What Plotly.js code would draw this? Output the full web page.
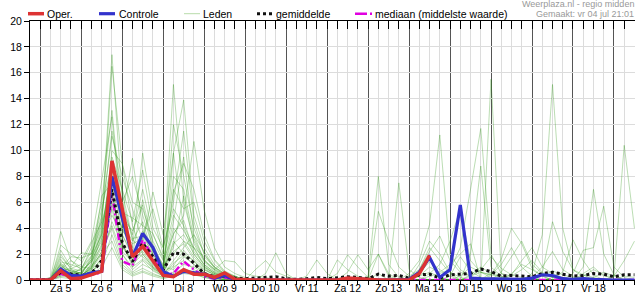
<!DOCTYPE html>
<html><head><meta charset="utf-8">
<script src="https://cdn.plot.ly/plotly-3.0.1.min.js"></script>
<style>html,body{margin:0;padding:0;background:#fff}#chart{width:635px;height:300px}</style>
</head><body><div id="chart"></div>
<script>
// ---- data (6-hourly steps from Fri 4 Jul 18:00) ----
const dagLabels = ['Za 5','Zo 6','Ma 7','Di 8','Wo 9','Do 10','Vr 11','Za 12','Zo 13','Ma 14','Di 15','Wo 16','Do 17','Vr 18'];
const dagMiddag = ['2025-07-05 12:00','2025-07-06 12:00','2025-07-07 12:00','2025-07-08 12:00','2025-07-09 12:00','2025-07-10 12:00','2025-07-11 12:00','2025-07-12 12:00','2025-07-13 12:00','2025-07-14 12:00','2025-07-15 12:00','2025-07-16 12:00','2025-07-17 12:00','2025-07-18 12:00'];

const oper = [0,0,0,0.72,0.1, 0.15,0.4,0.67,9.2, 5.6,1.8,2.6,1.5, 0.35,0.25,0.8,0.45, 0.45,0.2,0.55,0.05, 0,0,0,0, 0,0,0,0, 0,0,0.15,0.1, 0,0,0,0, 0,0.5,1.9];
const controle = [0,0,0,0.85,0.35, 0.3,0.55,0.67,8.0, 4.8,1.8,3.6,2.5, 0.65,0.3,0.67,0.55, 0.45,0.15,0.35,0.05, 0,0,0,0, 0,0,0,0, 0,0,0.1,0.05, 0,0,0,0, 0.05,0.6,1.75,0.2, 0.8,5.8,0.15,0.1, 0.1,0.05,0.1,0.05, 0.15,0.4,0.35,0.1, 0.05,0.1,0.05,0, 0,0,0];
const gemiddelde = [0,0,0.05,0.6,0.5, 0.35,0.5,1.5,7.0, 2.9,1.4,2.85,1.8, 0.8,2.1,2.0,1.3, 0.5,0.25,0.3,0.15, 0.1,0.15,0.2,0.25, 0.1,0.05,0.1,0.2, 0.1,0.15,0.25,0.2, 0.1,0.45,0.3,0.35, 0.15,0.4,0.45,0.15, 0.4,0.45,0.5,0.85, 0.65,0.3,0.35,0.3, 0.25,0.5,0.6,0.45, 0.3,0.35,0.5,0.45, 0.25,0.4,0.4];
const mediaan = [0,0,0,0.5,0.2, 0.2,0.4,0.6,6.7, 1.45,1.1,3.1,1.8, 0.4,0.5,1.45,0.8, 0.3,0.1,0.2,0.05, 0,0,0,0, 0,0,0,0, 0,0,0,0, 0,0,0,0, 0,0,0.05,0.05, 0.05,0.05,0,0, 0,0,0,0, 0,0,0,0, 0,0,0,0, 0,0,0];

const lid01 = [0, 0,0.1,1.2,0.6, 0.4,1.8,4.5,17.4, 6.2,3.1,2.4,1.2, 0.6,1.1,2.3,1.4, 0.8,0.4,0.2,0.1, 0,0,0,0, 0,0,0,0, 0,0,0,0, 0.3,8.0,1.2,0.2, 0,0.3,0.6,0.2, 0,0,0.4,1.0, 0.5,0.2,0,0, 0,0,0,0, 0,0,0,0, 0,0,0];
const lid02 = [0, 0,0,0.8,0.3, 0.2,1.2,3.8,16.5, 9.0,4.2,2.0,1.0, 0.5,2.8,3.5,2.0, 1.0,0.5,0.3,0, 0,0,0,0, 0,0,0,0, 0,0,0,0, 0,0,0,0, 0,0.3,1.0,0.6, 1.2,2.0,2.8,0, 15.5,0.5,0.3,0.8, 1.5,0.6,0.2,0, 0,0,0,0, 0,0,0];
const lid03 = [0, 0,0.2,3.75,1.5, 0.8,2.5,6.0,13.1, 5.0,9.4,4.0,2.2, 1.0,0.8,1.8,1.2, 0.5,0.2,0,0, 0,0,0,0, 0,0,0,0, 0,0,0,0, 0,0,0,0, 0.5,1.5,4.3,11.2, 2.0,0.8,0.3,0, 0,0,0.5,1.2, 0.8,0.3,0,0, 0,0.4,0.2,0, 0,0,0];
const lid04 = [0, 0,0,2.7,2.0, 1.5,3.0,7.7,12.6, 4.0,2.5,9.8,5.0, 2.0,15.1,6.0,3.0, 1.5,0.8,0.4,0.2, 0,0,0,0, 0,0,0,0, 0,0,0,0, 0,0,0,0, 0,0,0,0, 0,0,0,0, 0,0,0,0, 0.5,3.5,15.1,4.0, 0.8,0.2,0,0, 0,0,0];
const lid05 = [0, 0,0.1,2.3,1.0, 2.1,2.0,5.0,11.1, 8.0,5.5,3.0,6.8, 3.5,9.8,13.9,5.0, 2.5,1.2,0.6,0.3, 0,0.8,1.5,0.6, 0.3,0,0,0, 0,0,0,0, 0,0,0,0, 0,0,0.3,0.5, 0.8,2.5,7.0,11.7, 2.0,0.5,0,0, 0,0,0,0, 0,0,0,0, 0,0,0];
const lid06 = [0, 0,0,2.0,0.8, 0.5,1.5,3.0,10.0, 9.0,6.0,5.5,3.0, 1.5,3.5,5.0,10.7, 5.4,2.5,1.0,0.5, 0.2,0,0,0, 0,0,0,0, 0,0,0,0, 0,0,0,0, 0,0,0,0, 0,0,0,0, 0,0,0,0, 0,0,0.2,0, 0,0.5,1.0,0.3, 0.3,10.4,4.0];
const lid07 = [0, 0,0,1.6,0.5, 0.3,1.0,2.5,9.5, 7.0,4.5,8.5,4.0, 2.5,5.5,4.2,2.5, 1.2,0.6,0.3,0.1, 0,0,0.5,2.1, 0.5,0,0,0, 0,0,0,0, 0,0.5,0,7.5, 0.8,0.2,0,0, 0,0,0,0, 0,0,0,0, 0,0,0,0, 0,0,0,0, 0,0,0];
const lid08 = [0, 0,0,1.4,1.2, 0.9,2.2,5.5,9.0, 5.5,3.5,7.0,3.5, 1.8,12.0,8.0,4.0, 2.0,1.0,0.5,0.2, 0,0,0,0, 0,0,0,0, 0,0,0,0, 0,0,0,0, 0,0,0,0, 0,0,0.3,0.6, 0.4,0.2,0,0, 0,0,0,0, 0,1.0,7.0,2.0, 0.4,0,0];
const lid09 = [0, 0,0,1.2,0.4, 0.6,1.6,4.0,8.5, 3.5,2.0,6.2,2.8, 1.0,4.5,9.5,3.5, 1.5,0.8,1.5,1.4, 0.5,0.3,0.2,0, 0,0,0.3,1.55, 0.5,0,0,0, 0,0,0,0, 0,0,0,0, 0,0,0,0, 0,0,0,0, 0,0,0,0, 0,0,0,0, 0,0,0];
const lid10 = [0, 0,0.1,1.0,0.7, 0.4,0.8,2.0,8.0, 6.0,8.0,5.0,2.5, 1.2,2.0,3.0,2.5, 1.8,1.0,0.5,0.3, 0,0,0,0, 0,0,0,0, 0,1.55,0.8,0.3, 0,0,0,0, 0,0,0,0, 0,0,0,0, 0,0,0,0, 0,0,0,0, 0,0,0,0, 0,0,0];
const lid11 = [0, 0,0,0.9,0.3, 0.2,1.3,6.5,7.5, 4.5,3.0,4.5,2.0, 0.8,7.0,5.5,6.0, 3.0,1.5,0.6,0.2, 0,0,0,0, 0,0,0,0, 0,0.5,1.95,1.0, 0.2,0,0,0, 0,0,0,0, 0,0,0,0, 0,0,0,0, 0,0,0,0, 0,0,0,0, 0,0,0];
const lid12 = [0, 0,0,0.7,0.9, 1.2,2.8,4.5,7.0, 2.5,1.5,3.5,5.5, 2.5,6.0,11.5,4.5, 2.0,0.9,0.4,0.1, 0,0,0,0, 0,0,0,0, 0,0,0.6,1.95, 0.8,2.0,0.3,0, 0,0,0,0, 0,0,0,0, 0,0,0,0, 0,0,0,0, 0,0,0,0, 0,0,0];
const lid13 = [0, 0,0,0.6,0.2, 0.1,0.6,1.5,6.5, 3.0,1.0,2.5,1.5, 0.5,3.0,2.0,1.5, 0.6,0.3,0,0, 0,0,0,0, 0,0,0,0, 0,0,0,0, 0,5.3,3.0,1.0, 0.3,0.8,2.5,1.5, 0.5,0,0,0, 0,0,0,0, 0,0,0,0, 0,0,0,0, 0,0,0];
const lid14 = [0, 0,0,0.5,0.6, 0.8,1.8,3.5,6.0, 4.0,2.2,1.8,0.9, 0.4,1.5,2.5,3.5, 2.2,1.0,0.4,0.1, 0,0,0,0, 0,0,0,0, 0,0,0,0, 0,0,0,0, 0,0.8,2.2,3.4, 1.5,0.6,0.3,0.8, 1.8,0.9,0.4,0.2, 0,0.3,0.7,0.4, 0.2,0,0,0, 0,0,0];
const lid15 = [0, 0,0.1,0.4,0.2, 0.3,1.0,2.8,5.5, 2.0,0.8,1.5,0.7, 0.3,9.8,4.0,2.0, 1.0,0.5,0.2,0, 0,0,0,0, 0,0,0,0, 0,0,0,0, 0,0,0,0, 0,0,0.5,1.2, 3.0,5.5,1.5,0.6, 0.4,1.2,2.5,1.0, 0.3,0,0,0, 0,0,0,0, 0,0.3,0.2];
const lid16 = [0, 0,0,0.3,0.5, 0.6,1.4,3.2,5.0, 3.5,1.8,3.8,1.8, 0.9,2.5,6.5,2.8, 1.4,0.7,0.3,0.1, 0,0,0,0, 0,0,0,0, 0,0,0,0, 0,0,0,0, 0,0,0,0, 0,0,0,0, 0,0.6,1.8,3.0, 1.2,0.5,0.2,0.6, 3.1,1.5,0.4,0, 0,0,0];
const lid17 = [0, 0,0,0.2,0.1, 0.2,0.5,1.8,4.5, 2.8,1.2,2.0,1.0, 0.4,1.0,1.5,0.8, 0.4,0.2,0,0, 0,0,0,0, 0,0,0,0, 0,0,0,0, 0,0,0,0, 0,0,0,0, 0,0,2.0,8.8, 1.0,0.3,0,0, 0,0,0,0, 0,0.3,0.8,0.4, 0,0,0];
const lid18 = [0, 0,0,0.8,1.5, 1.0,0.9,2.2,4.0, 1.5,0.6,1.2,0.8, 0.3,0.6,1.2,1.0, 0.5,0.3,0.1,0, 0,0,0,0, 0,0,0,0, 0,0,0,0, 0,0,0,0, 0,0,0,0, 0,0,0,0, 0,0,0,0, 0,0.5,4.5,2.2, 0.8,0.4,0,0, 0,0,0];
const lid19 = [0, 0,0.1,0.6,0.4, 0.3,0.7,1.2,3.5, 1.2,0.5,0.9,0.5, 0.2,0.5,0.9,0.6, 0.3,0.1,0,0, 0,0,0,0, 0,0,0,0, 0,0,0,0, 0,2.0,0.5,0, 0,0,0,0, 0,0,0,0, 0.4,1.6,4.0,2.8, 0.9,0.3,0,0, 0,0,0.2,0.6, 0.3,0,0];
const lid20 = [0, 0,0,0.4,0.8, 0.5,1.1,2.0,3.0, 1.0,0.4,0.7,0.4, 0.2,0.4,0.7,0.5, 0.2,0.1,0,0, 0,0,0,0, 0,0,0,0, 0,0,0,0, 0,0,0,0, 0,0,0,0, 0,0,0,0, 0,0,0,0, 0,0,0,0, 0.5,2.3,2.5,5.7, 1.0,0.2,0];
const lid21 = [0, 0,0,1.8,0.9, 0.7,1.4,2.6,7.2, 3.8,2.8,3.2,1.6, 0.7,4.0,3.0,1.8, 0.9,0.4,0.2,0, 0,0,0,0, 0,0,0,0, 0,0,0,0, 0,0,0,0, 0,1.2,3.0,2.0, 0.6,0.2,0,0, 0,0,0,0, 0,0,0,0, 0,0,0,0, 0,0,0];
const lid22 = [0, 0,0,1.1,0.5, 0.4,0.9,3.5,8.8, 4.8,3.8,5.8,2.4, 1.1,8.0,7.0,3.2, 1.6,0.8,0.3,0.1, 0,0,0,0, 0,0,0,0, 0,0,0,0, 0,0,0,0, 0,0,0,0, 0,0.3,1.0,0.6, 0.2,0,0.4,1.5, 2.5,1.0,0.5,0.2, 0,0,0,0, 0.3,1.5,3.0];
const lid23 = [0, 0,0,0.9,1.8, 1.7,2.0,4.2,6.8, 2.2,1.4,2.8,1.4, 0.6,3.6,4.6,2.2, 1.2,0.6,0.2,0, 0,0,0,0, 0,0,0,0, 0,0,0,0, 0,0,0,0, 0,0,0,0, 0.3,1.8,0.7,0.2, 0,0,0,0, 0,0,0,0, 0,0,0,0, 0,0,0];
const lid24 = [0, 0,0,0.5,0.3, 0.2,0.8,1.6,5.8, 2.6,1.6,2.2,1.1, 0.5,2.2,2.8,1.6, 0.8,0.4,0.1,0, 0,0,0,0, 0,0,0,0, 0,0,0,0, 0,0,0,0, 0,0,0,0, 0,0,0,0, 0,0,0,0, 0.2,1.0,2.2,0.8, 0.3,0,0,0, 0,0,0];
const lid25 = [0, 0,0,0.3,0.2, 0.1,0.4,1.0,2.5, 0.8,0.3,0.6,0.3, 0.1,0.3,0.5,0.4, 0.2,0,0,0, 0,0,0,0, 0,0,0,0, 0,0,0,0, 0,0,0,0, 0,0,0,0, 0,0,0,0, 0,0,0,0, 0,0,0,0, 0,0,0,0, 0,0,0];
const lid26 = [0, 0,0,1.3,0.7, 0.5,1.6,3.6,9.2, 5.2,4.8,4.2,3.6, 1.6,5.0,3.8,2.4, 1.1,0.5,0.2,0.1, 0,0,0,0, 0,0,0,0, 0,0,0,0, 0,0,0,0, 0,0,0,0, 0,0,0,0, 0.6,0.3,0,0, 0,0,0,0, 0,0,0,0, 0,0,0];
const lid27 = [0, 0,0,0.6,0.4, 0.9,1.9,4.8,11.5, 6.8,3.2,3.4,2.0, 0.8,6.8,9.0,7.0, 3.5,1.6,0.7,0.3, 0,0,0,0, 0,0,0,0, 0,0,0,0, 0,0,0,0, 0,0,0,0, 0,0,0,0, 0,0,0,0, 0,0,0,0, 0,0,0,0, 0,0,0];
const lid28 = [0, 0,0,0.7,0.3, 0.3,0.9,2.2,4.2, 2.0,1.0,1.6,0.9, 0.4,1.3,1.9,1.2, 0.6,0.3,0.1,0, 0,0,0,0, 0,0,0,0, 0,0,0,0, 0,0,0,0, 0.2,0.5,1.4,0.8, 0.3,0,0,0, 0,0,0,0, 0,0,0,0, 0,0,0,0, 0,0,0];
const leden = [lid01,lid02,lid03,lid04,lid05,lid06,lid07,lid08,lid09,lid10,lid11,lid12,lid13,lid14,lid15,lid16,lid17,lid18,lid19,lid20,lid21,lid22,lid23,lid24,lid25,lid26,lid27,lid28];

// time axis: 6-hour steps
function tijdAs(n){
  const t0 = Date.parse('2025-07-04T18:00:00Z'), out = [];
  for (let i = 0; i < n; i++) out.push(new Date(t0 + i*6*3600e3).toISOString().slice(0,16).replace('T',' '));
  return out;
}
const tijd = tijdAs(60);
const xRange = ['2025-07-04 18:00','2025-07-19 12:19'];

const traces = [];
leden.forEach(v => traces.push({x: tijd.slice(0, v.length), y: v, type:'scatter', mode:'lines',
  line:{color:'rgba(45,150,20,0.32)', width:1}, hoverinfo:'skip', showlegend:false}));
traces.push({x: tijd, y: mediaan, type:'scatter', mode:'lines', line:{color:'#e000e0', width:2.5, dash:'7px,3px,2px,3px'}, showlegend:false});
traces.push({x: tijd, y: gemiddelde, type:'scatter', mode:'lines', line:{color:'#111', width:3, dash:'dot'}, showlegend:false});
traces.push({x: tijd, y: controle, type:'scatter', mode:'lines', line:{color:'#3333cc', width:3.2}, showlegend:false});
traces.push({x: tijd.slice(0, oper.length), y: oper, type:'scatter', mode:'lines', line:{color:'#dd3333', width:3.5}, showlegend:false});

// pixel -> paper helpers for legend placement
const L = 30, R = 0, T = 21, B = 20, W = 635, H = 300;
const px = x => (x - L) / (W - L - R);
const py = y => (H - B - y) / (H - T - B);
const font = {family:'Liberation Sans, Arial, sans-serif', size:10.5, color:'#000'};

const legendItems = [
  {x0:28, x1:44, tx:47, text:'Oper.', line:{color:'#dd3333', width:3.5}},
  {x0:99, x1:115, tx:118.5, text:'Controle', line:{color:'#3333cc', width:3.2}},
  {x0:184, x1:200, tx:202.5, text:'Leden', line:{color:'#b8dcaa', width:1}},
  {x0:257, x1:272, tx:276, text:'gemiddelde', line:{color:'#111', width:3, dash:'dot'}},
  {x0:355, x1:372, tx:375, text:'mediaan (middelste waarde)', line:{color:'#e000e0', width:2.5, dash:'12px,3px,2px,3px'}}
];
const shapes = legendItems.map(it => ({type:'line', xref:'paper', yref:'paper', x0:px(it.x0), x1:px(it.x1), y0:py(13.7), y1:py(13.7), line:it.line}));
const annotations = legendItems.map(it => ({xref:'paper', yref:'paper', x:px(it.tx - 2), y:py(13.7), xanchor:'left', yanchor:'middle', text:it.text, showarrow:false, font:font}));
const kopFont = {family:font.family, size:9, color:'#999'};
annotations.push({xref:'paper', yref:'paper', x:px(635), y:py(3.6), xanchor:'right', yanchor:'middle', borderpad:0, text:'Weerplaza.nl - regio midden', showarrow:false, font:kopFont});
annotations.push({xref:'paper', yref:'paper', x:px(635), y:py(14.2), xanchor:'right', yanchor:'middle', borderpad:0, text:'Gemaakt: vr 04 jul 21:01', showarrow:false, font:kopFont});

const layout = {
  width: W, height: H, margin:{l:L, r:R, t:T, b:B, pad:0},
  paper_bgcolor:'#fff', plot_bgcolor:'#fff', showlegend:false, font:font,
  xaxis:{type:'date', range:xRange, tick0:'2025-07-05 00:00', dtick:86400000,
    ticks:'outside', ticklen:4, tickcolor:'#000', tickwidth:1, showticklabels:false,
    showgrid:true, gridcolor:'#555', gridwidth:1, showline:true, linecolor:'#000', linewidth:1, zeroline:false,
    minor:{dtick:21600000, tick0:'2025-07-05 00:00', ticks:'outside', ticklen:4, tickcolor:'#000', showgrid:true, gridcolor:'#dcdcdc', gridwidth:1}},
  xaxis2:{type:'date', range:xRange, overlaying:'x', side:'top', anchor:'y', tick0:'2025-07-05 00:00', dtick:21600000,
    ticks:'inside', ticklen:8, tickcolor:'#000', showticklabels:false, showgrid:false, showline:true, linecolor:'#000', zeroline:false},
  xaxis3:{type:'date', range:xRange, overlaying:'x', side:'bottom', anchor:'y', tickmode:'array', tickvals:dagMiddag, ticktext:dagLabels,
    ticks:'', showgrid:false, showline:false, zeroline:false, tickfont:font},
  yaxis:{range:[0,20], dtick:2, ticks:'outside', ticklen:5, tickcolor:'#000', showline:true, linecolor:'#000',
    showgrid:true, gridcolor:'#dcdcdc', zeroline:false, tickfont:font, fixedrange:true},
  shapes: shapes, annotations: annotations
};
// invisible helper traces to activate the overlay axes
traces.push({x:[tijd[0]], y:[0], xaxis:'x2', yaxis:'y', mode:'markers', marker:{opacity:0}, hoverinfo:'skip', showlegend:false});
traces.push({x:[tijd[0]], y:[0], xaxis:'x3', yaxis:'y', mode:'markers', marker:{opacity:0}, hoverinfo:'skip', showlegend:false});

Plotly.newPlot('chart', traces, layout, {displayModeBar:false, staticPlot:true});
</script>
</body></html>
